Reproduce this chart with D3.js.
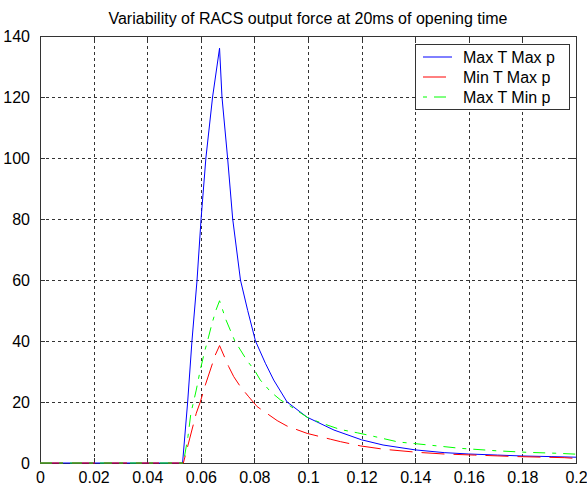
<!DOCTYPE html>
<html>
<head>
<meta charset="utf-8">
<script src="https://cdn.jsdelivr.net/npm/d3@7"></script>
<style>
  html, body { margin: 0; padding: 0; background: #ffffff; }
  svg { display: block; }
  text { font-family: "Liberation Sans", Arial, sans-serif; }
</style>
</head>
<body>
<svg id="chart" width="587" height="486"></svg>
<script>
// ---- data ----
const title = "Variability of RACS output force at 20ms of opening time";
const seriesNames = ["Max T Max p", "Min T Max p", "Max T Min p"];

const xTicks = [0, 0.02, 0.04, 0.06, 0.08, 0.1, 0.12, 0.14, 0.16, 0.18, 0.2];
const xTickLabels = ["0", "0.02", "0.04", "0.06", "0.08", "0.1", "0.12", "0.14", "0.16", "0.18", "0.2"];
const yTicks = [0, 20, 40, 60, 80, 100, 120, 140];
const yTickLabels = ["0", "20", "40", "60", "80", "100", "120", "140"];

// Max T Max p (blue)
const blueX = [0, 0.0532, 0.0551, 0.0567, 0.0586, 0.0601, 0.0619, 0.0644, 0.067, 0.0679, 0.07, 0.0719, 0.0748, 0.0775, 0.0804, 0.0841, 0.0872, 0.0922, 0.0997, 0.1097, 0.12, 0.128, 0.14, 0.1508, 0.16, 0.1707, 0.18, 0.1907, 0.2];
const blueY = [0, 0, 20, 40, 60, 80, 100, 120, 136, 120, 100, 80, 60, 50, 40, 32.7, 27.2, 20, 15, 10.8, 7.6, 5.9, 4.3, 3.4, 2.95, 2.6, 2.3, 2.1, 1.9];

// Min T Max p (red)
const redX = [0, 0.0535, 0.0583, 0.0598, 0.0617, 0.0654, 0.067, 0.0704, 0.0723, 0.0748, 0.0779, 0.081, 0.0885, 0.0922, 0.0997, 0.1084, 0.1121, 0.1196, 0.1283, 0.1408, 0.1508, 0.162, 0.1782, 0.1956, 0.2];
const redY = [0, 0, 16.3, 20, 25.6, 35.4, 38.5, 31.6, 28.3, 25.0, 21.7, 18.5, 13.9, 12.1, 9.7, 7.8, 7.0, 5.6, 4.5, 3.5, 2.95, 2.6, 2.1, 1.75, 1.5];

// Max T Min p (green)
const greenX = [0, 0.0535, 0.0552, 0.0563, 0.0583, 0.0598, 0.0614, 0.0625, 0.0642, 0.0657, 0.067, 0.0694, 0.0727, 0.0773, 0.08, 0.0822, 0.086, 0.0897, 0.0928, 0.1, 0.106, 0.112, 0.1184, 0.1227, 0.1336, 0.1439, 0.157, 0.1704, 0.1817, 0.1925, 0.2];
const greenY = [0, 0, 8.6, 16.3, 23.9, 30.5, 36.5, 40, 45.8, 50.2, 53.2, 46.9, 40, 33.5, 30.5, 27.2, 23.4, 20.7, 19.0, 14.8, 12.8, 11.0, 9.9, 9.1, 6.9, 6.0, 4.8, 4.0, 3.5, 3.2, 2.9];

const seriesColors = ["#0000ff", "#ff0000", "#00ff00"];
const seriesDash = [null, "23,9", "12,7,4,7"];

// ---- layout ----
const svg = d3.select("#chart");
const L = 40, R = 576, T = 36, B = 463;
const x = d3.scaleLinear().domain([0, 0.2]).range([L, R]);
const y = d3.scaleLinear().domain([0, 140]).range([B, T]);
const axisColor = "#333333";

svg.append("rect").attr("width", 587).attr("height", 486).attr("fill", "#ffffff");

// grid
const grid = svg.append("g");
grid.append("g").attr("transform", `translate(0,${B})`)
  .call(d3.axisBottom(x).tickValues(xTicks.slice(1, -1)).tickSize(-(B - T)).tickFormat(""))
  .call(g => g.select(".domain").remove())
  .selectAll("line").attr("stroke", axisColor).attr("stroke-dasharray", "3,3").attr("shape-rendering", "crispEdges");
grid.append("g").attr("transform", `translate(${L},0)`)
  .call(d3.axisLeft(y).tickValues(yTicks.slice(1, -1)).tickSize(-(R - L)).tickFormat(""))
  .call(g => g.select(".domain").remove())
  .selectAll("line").attr("stroke", axisColor).attr("stroke-dasharray", "3,3").attr("shape-rendering", "crispEdges");

// axes with inward ticks
function styleAxis(g) {
  g.select(".domain").remove();
  g.selectAll("line").attr("stroke", axisColor).attr("shape-rendering", "crispEdges");
  g.selectAll("text").attr("fill", "#000").attr("font-size", "16px")
    .attr("font-family", "'Liberation Sans', Arial, sans-serif");
}
svg.append("g").attr("transform", `translate(0,${B})`)
  .call(d3.axisBottom(x).tickValues(xTicks).tickSizeInner(-5).tickSizeOuter(0).tickPadding(9)
    .tickFormat((d, i) => xTickLabels[i]))
  .call(styleAxis);
svg.append("g").attr("transform", `translate(0,${T})`)
  .call(d3.axisTop(x).tickValues(xTicks).tickSizeInner(-5).tickSizeOuter(0).tickFormat(""))
  .call(styleAxis);
svg.append("g").attr("transform", `translate(${L},0)`)
  .call(d3.axisLeft(y).tickValues(yTicks).tickSizeInner(-5).tickSizeOuter(0).tickPadding(10)
    .tickFormat((d, i) => yTickLabels[i]))
  .call(styleAxis);
svg.append("g").attr("transform", `translate(${R},0)`)
  .call(d3.axisRight(y).tickValues(yTicks).tickSizeInner(-5).tickSizeOuter(0).tickFormat(""))
  .call(styleAxis);

// box
svg.append("rect").attr("x", L + 0.5).attr("y", T + 0.5).attr("width", R - L).attr("height", B - T)
  .attr("fill", "none").attr("stroke", axisColor).attr("stroke-width", 1);

// lines
const seriesData = [
  blueX.map((v, i) => [v, blueY[i]]),
  redX.map((v, i) => [v, redY[i]]),
  greenX.map((v, i) => [v, greenY[i]])
];
const line = d3.line().x(d => x(d[0])).y(d => y(d[1]));
seriesData.forEach((data, i) => {
  svg.append("path").datum(data)
    .attr("d", line)
    .attr("fill", "none")
    .attr("stroke", seriesColors[i])
    .attr("stroke-width", 1)
    .attr("stroke-dasharray", seriesDash[i]);
});

// title
svg.append("text").attr("x", (L + R) / 2).attr("y", 24).attr("text-anchor", "middle")
  .attr("font-size", "16px").attr("fill", "#000").text(title);

// legend
const lg = svg.append("g");
lg.append("rect").attr("x", 415.5).attr("y", 44.5).attr("width", 154).attr("height", 65)
  .attr("fill", "#ffffff").attr("stroke", axisColor);
seriesNames.forEach((name, i) => {
  const yy = 57 + i * 20;
  lg.append("line").attr("x1", 423).attr("x2", 452).attr("y1", yy).attr("y2", yy)
    .attr("stroke", seriesColors[i]).attr("stroke-width", 1)
    .attr("stroke-dasharray", seriesDash[i])
    .attr("stroke-dashoffset", i === 2 ? 19 : 0);
  lg.append("text").attr("x", 463).attr("y", yy + 6).attr("font-size", "16px")
    .attr("fill", "#000").text(name);
});
</script>
</body>
</html>
